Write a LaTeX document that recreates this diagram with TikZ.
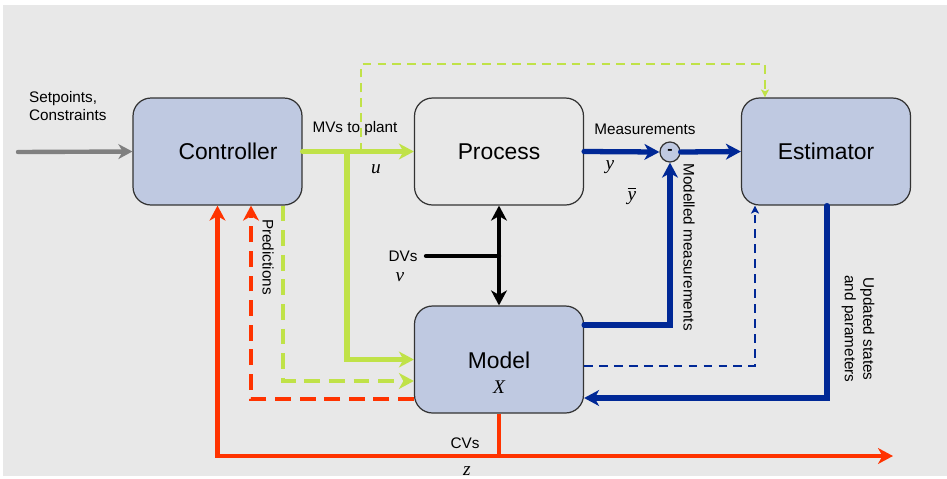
\documentclass[tikz,border=0pt]{standalone}
\usepackage{fontspec}
\setmainfont{Liberation Sans}
\newfontfamily\varfont{Liberation Serif}
\usetikzlibrary{arrows.meta}
\definecolor{bgGray}{RGB}{232,232,232}
\definecolor{boxBlue}{RGB}{191,201,225}
\definecolor{mvGreen}{RGB}{192,226,72}
\definecolor{cvRed}{RGB}{255,51,0}
\definecolor{yBlue}{RGB}{0,40,150}
\definecolor{spGray}{RGB}{128,128,128}
\begin{document}
\begin{tikzpicture}[x=0.02cm,y=-0.02cm,
  blk/.style={draw=black!80,line width=0.7pt,rounded corners=0.36cm,minimum width=3.38cm,minimum height=2.14cm,font=\fontsize{13}{15}\selectfont},
  lbl/.style={font=\fontsize{8.7}{10.5}\selectfont,inner sep=1pt},
  var/.style={font=\fontsize{11}{12}\selectfont\varfont\itshape,inner sep=1pt},
  tip/.style={-{Stealth[length=8.5pt,width=9pt,inset=2.5pt]}},
  smalltip/.style={-{Stealth[length=4.5pt,width=4.5pt,inset=1pt]}},
  thick line/.style={line width=3pt,line cap=round},
  mid line/.style={line width=2.5pt},
  thin dash/.style={line width=1.1pt,dash pattern=on 5pt off 3.5pt}]
\useasboundingbox (0,0) rectangle (947,478);
\fill[bgGray] (3,5) rectangle (947,476);
\node[blk,fill=boxBlue] (ctrl) at (217.5,151.5) {\hspace{12pt}Controller};
\node[blk] (proc) at (499,151.5) {Process};
\node[blk,fill=boxBlue] (est) at (826,151.5) {Estimator};
\node[blk,fill=boxBlue] (model) at (499,359.5) {};
\node[blk,draw=none,minimum width=0pt,minimum height=0pt,inner sep=0pt] (modelT) at (499,360) {Model};
\node[var] (modelX) at (499,387) {X};
\node[circle,draw=black!80,fill=boxBlue,line width=0.7pt,minimum size=0.4cm,inner sep=0pt,font=\bfseries\small] (sum) at (670,152) {-};
\coordinate (sp) at (18,152);
\coordinate (mvb) at (347,152);
\coordinate (mvd) at (361,152);
\coordinate (topd) at (765,64);
\coordinate (cPred) at (283,381);
\coordinate (cRd) at (251,399);
\coordinate (cv) at (499,456);
\coordinate (zend) at (893,456);
\coordinate (dv) at (426,256);
\coordinate (mm) at (670,325);
\coordinate (bd) at (755,366);
\coordinate (up) at (827,398);
\draw[spGray,mid line,line cap=round,-{Stealth[length=8pt,width=8.5pt,inset=2.5pt]}] (sp) -- (ctrl.west);
\draw[mvGreen,line width=1.1pt,dash pattern=on 5pt off 3.5pt,smalltip] (mvd) -- (mvd |- topd) -- (topd) -- (topd |- est.north);
\draw[mvGreen,thick line,tip] (ctrl.east) -- (proc.west);
\draw[mvGreen,thick line,tip] (mvb) |- (model.west);
\draw[mvGreen,mid line,dash pattern=on 9pt off 5pt,tip] (ctrl.south -| cPred) |- (cPred -| model.west);
\draw[cvRed,mid line,dash pattern=on 9pt off 5pt,tip] (cRd -| model.west) -| (ctrl.south -| cRd);
\draw[cvRed,mid line,tip] (model.south) -- (cv) -| (ctrl.south);
\draw[cvRed,mid line,tip] (cv) -- (zend);
\draw[black,mid line,line cap=round] (dv) -- (dv -| proc.south);
\draw[black,mid line,{Stealth[length=8.5pt,width=9pt,inset=2.5pt]}-{Stealth[length=8.5pt,width=9pt,inset=2.5pt]}] (proc.south) -- (model.north);
\draw[yBlue,thick line,tip] (proc.east) -- (sum.west);
\draw[yBlue,thick line,tip] (sum.east) -- (est.west);
\draw[yBlue,thick line,tip] (mm -| model.east) -- (mm) -- (sum.south);
\draw[yBlue,thin dash,smalltip] (bd -| model.east) -- (bd) -- (bd |- est.south);
\draw[yBlue,thick line,tip] (est.south -| up) -- (up) -- (up -| model.east);
\node[lbl,anchor=west,align=left] (spL) at (27,106) {Setpoints,\\Constraints};
\node[lbl] (mvL) at (355,129) {MVs to plant};
\node[var] (uL) at (376,169) {u};
\node[lbl] (measL) at (645,129) {Measurements};
\node[var] (yL) at (610,167) {y};
\node[var] (ybL) at (632,196) {$\overline{\hbox{\varfont\itshape y}}$};
\node[lbl,rotate=-90] (mmL) at (689,247) {Modelled measurements};
\node[lbl,rotate=-90] (predL) at (268,257) {Predictions};
\node[lbl,rotate=-90,align=center] (updL) at (858,329) {Updated states\\and parameters};
\node[lbl] (dvL) at (403,256) {DVs};
\node[var] (vL) at (400,277) {v};
\node[lbl] (cvL) at (465,443) {CVs};
\node[var] (zL) at (467,471) {z};
\end{tikzpicture}
\end{document}
